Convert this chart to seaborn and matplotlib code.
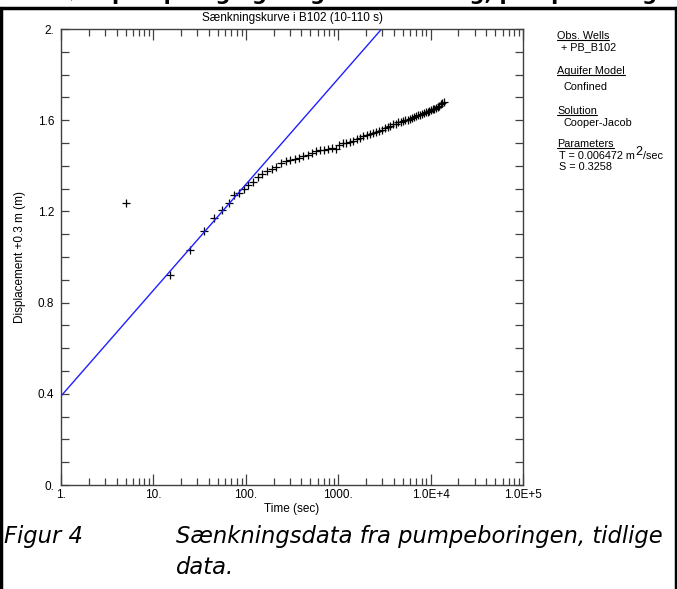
import matplotlib
matplotlib.use("Agg")
import matplotlib.pyplot as plt
import seaborn as sns
from matplotlib.lines import Line2D
from matplotlib.ticker import LogLocator, MultipleLocator, NullFormatter, FixedLocator, FixedFormatter

# ---- data ----
time_sec = [5, 15, 25, 35, 45, 55, 65, 75, 85, 95, 105, 120, 135, 150, 170, 190, 210,
            240, 270, 300, 340, 380, 420, 470, 520, 580, 640, 700, 780, 860, 940, 1030,
            1120, 1220, 1330, 1450, 1580, 1720, 1870, 2030, 2200, 2380, 2570, 2770, 2980,
            3200, 3430, 3670, 3920, 4180, 4450, 4730, 5020, 5320, 5630, 5950, 6280, 6620,
            6970, 7330, 7700, 8080, 8470, 8870, 9280, 9700, 10130, 10570, 11020, 11480,
            11950, 12430, 12920, 13420, 13930]
displacement = [1.235, 0.923, 1.029, 1.112, 1.169, 1.204, 1.235, 1.270, 1.279, 1.300, 1.314,
                1.327, 1.352, 1.362, 1.378, 1.386, 1.395, 1.413, 1.422, 1.425, 1.428, 1.434,
                1.443, 1.448, 1.455, 1.466, 1.470, 1.468, 1.474, 1.478, 1.472, 1.490, 1.498,
                1.500, 1.506, 1.510, 1.518, 1.522, 1.530, 1.534, 1.540, 1.544, 1.549, 1.552,
                1.556, 1.565, 1.572, 1.575, 1.582, 1.585, 1.590, 1.592, 1.597, 1.600, 1.603,
                1.606, 1.611, 1.614, 1.618, 1.621, 1.624, 1.628, 1.630, 1.634, 1.637, 1.641,
                1.645, 1.648, 1.650, 1.654, 1.660, 1.664, 1.670, 1.676, 1.682]
fit_time = [1, 100000]
fit_disp = [0.39, 2.71]

x_ticks = [1, 10, 100, 1000, 10000, 100000]
x_tick_labels = ["1.", "10.", "100.", "1000.", "1.0E+4", "1.0E+5"]
y_ticks = [0.0, 0.4, 0.8, 1.2, 1.6, 2.0]
y_tick_labels = ["0.", "0.4", "0.8", "1.2", "1.6", "2."]

title = "Sænkningskurve i B102 (10-110 s)"
x_label = "Time (sec)"
y_label = "Displacement +0.3 m (m)"
legend_items = [("Obs. Wells", True), ("+ PB_B102", False),
                ("Aquifer Model", True), ("Confined", False),
                ("Solution", True), ("Cooper-Jacob", False),
                ("Parameters", True), ("T = 0.006472 m", False),
                ("S = 0.3258", False)]
t_unit_sup = "2"
t_unit_rest = "/sec"
caption_label = "Figur 4"
caption_lines = ["Sænkningsdata fra pumpeboringen, tidlige", "data."]
top_heading = "3.3 Prøvepumpning og langtidssænkning, pumpeboring B102 og jævnføring"

# ---- styling ----
sns.set_theme(style="white")
plt.rcParams["font.family"] = ["Liberation Sans", "DejaVu Sans"]
plt.rcParams["text.color"] = "black"
plt.rcParams["axes.labelcolor"] = "black"

W, H = 677, 589
fig = plt.figure(figsize=(W / 100, H / 100), dpi=100)
fig.patch.set_facecolor("white")

L, R, T, B = 61, 523, 29, 485
ax = fig.add_axes([L / W, 1 - B / H, (R - L) / W, (B - T) / H])
ax.set_facecolor("white")

sns.lineplot(x=fit_time, y=fit_disp, ax=ax, color="#1f1fff", linewidth=1.0, sort=False)
sns.scatterplot(x=time_sec, y=displacement, ax=ax, marker="+", color="black",
                s=38, linewidth=0.9)

ax.set_xscale("log")
ax.set_xlim(1, 1e5)
ax.set_ylim(0, 2)
ax.xaxis.set_major_locator(FixedLocator(x_ticks))
ax.xaxis.set_major_formatter(FixedFormatter(x_tick_labels))
ax.xaxis.set_minor_locator(LogLocator(base=10, subs=range(2, 10)))
ax.xaxis.set_minor_formatter(NullFormatter())
ax.yaxis.set_major_locator(FixedLocator(y_ticks))
ax.yaxis.set_major_formatter(FixedFormatter(y_tick_labels))
ax.yaxis.set_minor_locator(MultipleLocator(0.1))

ax.tick_params(which="both", direction="in", top=True, right=True, bottom=True, left=True,
               colors="#404040", labelcolor="black", labelsize=8.5, width=0.9)
ax.tick_params(axis="x", which="major", length=8, pad=3)
ax.tick_params(axis="x", which="minor", length=5)
ax.tick_params(axis="y", which="both", length=6, pad=5)
for sp in ax.spines.values():
    sp.set_color("#404040")
    sp.set_linewidth(1.0)

ax.set_xlabel(x_label, fontsize=8.5, labelpad=1)
ax.set_ylabel(y_label, fontsize=8.5, labelpad=8)
ax.set_title(title, fontsize=8.5, pad=6)

# legend / info block
ys = [36, 47, 71, 87, 111, 123, 144, 156, 167]
xs = [557, 561, 557, 563, 557, 563, 557, 559, 559]
fig.canvas.draw()
renderer = fig.canvas.get_renderer()
fs_leg = 7.8
for (txt, underline), yp, xp in zip(legend_items, ys, xs):
    t = fig.text(xp / W, 1 - yp / H, txt, fontsize=fs_leg, va="center", ha="left")
    bb = t.get_window_extent(renderer)
    if underline:
        yline = bb.y0 + 1.0
        fig.add_artist(Line2D([bb.x0 / W, bb.x1 / W], [yline / H, yline / H],
                              transform=fig.transFigure, color="black", lw=0.8))
    if txt.startswith("T ="):
        s = fig.text((bb.x1 + 0.5) / W, 1 - (yp - 4) / H, t_unit_sup, fontsize=9,
                     va="center", ha="left")
        bb2 = s.get_window_extent(renderer)
        fig.text((bb2.x1 + 0.5) / W, 1 - yp / H, t_unit_rest, fontsize=fs_leg,
                 va="center", ha="left")

# caption
cap_fs = 16.3
fig.text(4 / W, 1 - 537 / H, caption_label, fontsize=cap_fs, style="italic",
         family="DejaVu Sans", va="center", ha="left")
fig.text(176 / W, 1 - 537 / H, caption_lines[0], fontsize=cap_fs, style="italic",
         family="DejaVu Sans", va="center", ha="left")
fig.text(176 / W, 1 - 567 / H, caption_lines[1], fontsize=cap_fs, style="italic",
         family="DejaVu Sans", va="center", ha="left")

# clipped heading at the very top
fig.text(0, 1 + 0.5 / H, top_heading, fontsize=15, weight="bold",
         family="DejaVu Sans", va="baseline", ha="left")

# page frame
lw = 2.5
fig.add_artist(Line2D([0, 1], [1 - 8 / H, 1 - 8 / H], transform=fig.transFigure, color="black", lw=lw))
fig.add_artist(Line2D([1.3 / W, 1.3 / W], [0, 1 - 8 / H], transform=fig.transFigure, color="black", lw=lw))
fig.add_artist(Line2D([675.7 / W, 675.7 / W], [0, 1 - 8 / H], transform=fig.transFigure, color="black", lw=lw))

fig.savefig("out.png", dpi=100)
